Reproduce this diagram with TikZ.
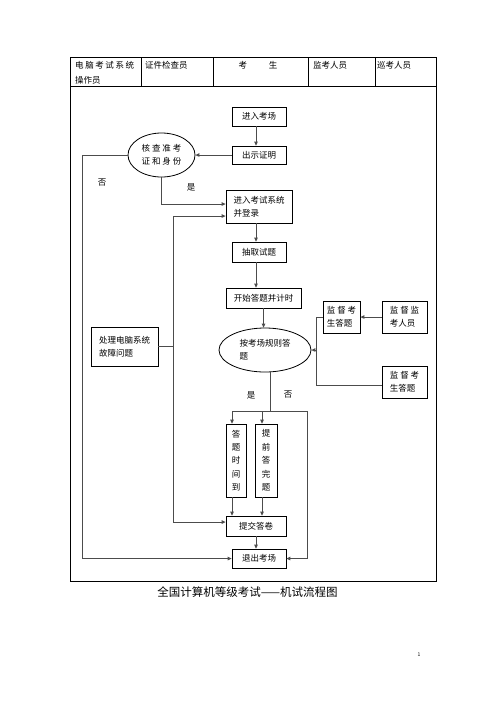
\documentclass[tikz,border=0pt]{standalone}
\usepackage{fontspec}
\setmainfont{Noto Sans CJK SC}
\usetikzlibrary{shapes.geometric}
\usetikzlibrary{arrows.meta}

\begin{document}
\begin{tikzpicture}[x=1pt, y=-1pt,
    every node/.style={inner sep=0pt, font=\fontsize{8.5pt}{13.4pt}\selectfont},
    box/.style={draw, line width=0.8pt},
    oval/.style={ellipse, draw, line width=0.8pt, align=center},
    conn/.style={draw=gray!60!black, line width=0.9pt},
    arr/.style={conn, -{Triangle[length=4pt, width=3.6pt]}}]

    \useasboundingbox (0,0) rectangle (496,702);

    % table frame and header row
    \draw[line width=0.8pt] (70,57) rectangle (436,581);
    \draw[line width=0.8pt] (70,86) -- (436,86);
    \foreach \x in {141,213,308,375}
        \draw[line width=0.8pt] (\x,57) -- (\x,86);

    \node[anchor=west] (h1) at (75,65) {\makebox[59pt]{电\hfill 脑\hfill 考\hfill 试\hfill 系\hfill 统}};
    \node[anchor=west] (h1b) at (75,80) {操作员};
    \node[anchor=west] (h2) at (145,65) {证件检查员};
    \node (h3) at (258,65) {考\hspace{22pt}生};
    \node[anchor=west] (h4) at (313,65) {监考人员};
    \node[anchor=west] (h5) at (377,65) {巡考人员};

    % steps
    \node[box, minimum width=54, minimum height=19] (1) at (259,116.5) {进入考场};

    \node[box, minimum width=54, minimum height=18] (2) at (259,155) {出示证明};

    \node[oval, minimum width=67, minimum height=44] (3) at (161.5,155) {核 查 准 考\\证 和 身 份};

    \node[box, minimum width=66, minimum height=33, align=left] (4) at (259,206.5) {进入考试系统\\并登录};

    \node[box, minimum width=54, minimum height=20] (5) at (259,252) {抽取试题};

    \node[box, minimum width=75, minimum height=20] (6) at (263.5,298) {开始答题并计时};

    \node[box, minimum width=37, minimum height=32, align=left] (7) at (341.5,317) {监 督 考\\生答题};
    \node[box, minimum width=45, minimum height=32, align=left] (8) at (404.5,317) {监 督 监\\考人员};

    \node[oval, minimum width=92, minimum height=44, align=left] (9) at (265,350) {按考场规则答\\题};

    \node[box, minimum width=67, minimum height=39, align=left] (10) at (124.5,346.5) {处理电脑系统\\故障问题};

    \node[box, minimum width=45, minimum height=32, align=left] (11) at (404.5,382) {监 督 考\\生答题};

    \node[box, minimum width=20, minimum height=73, align=center] (12) at (236,460.5) {答\\题\\时\\间\\到};
    \node[box, minimum width=22, minimum height=73, align=center] (13) at (266,460.5) {提\\前\\答\\完\\题};

    \node[box, minimum width=60, minimum height=20] (14) at (256,526) {提交答卷};

    \node[box, minimum width=54, minimum height=19] (15) at (259,558.5) {退出考场};

    % branch labels
    \node (l1) at (102,183) {否};
    \node (l2) at (191,187) {是};
    \node (l3) at (251,395) {是};
    \node (l4) at (288,395) {否};

    % bend points
    \coordinate (c1) at (82,155);
    \coordinate (c2) at (173,216);
    \coordinate (c3) at (173,522);
    \coordinate (c4) at (316,317);
    \coordinate (c5) at (316,385);
    \coordinate (c6) at (270,411);
    \coordinate (c7) at (307,411);

    \draw[arr] (1.south -| 14) -- (2.north -| 14);
    \draw[arr] (2.west) -- (3.east);
    \draw[arr] (3.west) -- (c1) |- (15.west);
    \draw[arr] (3.south) |- ([yshift=2.5pt]4.west);

    \draw[conn] (10.east) -- (10.east -| c2);
    \draw[conn] (c2) -- (c3);
    \draw[arr] (c2) -- (c2 -| 4.west);
    \draw[arr] (c3) -- (c3 -| 14.west);

    \draw[arr] (4.south -| 14) -- (5.north -| 14);
    \draw[arr] (5.south -| 14) -- (6.north -| 14);
    \draw[arr] (6.south) -- (6.south |- 9.north);

    \draw[arr] (8.west) -- (7.east);
    \draw[conn] (7.west) -- (c4) -- (c5) -- (c5 -| 11.west);
    \draw[arr] (c4 |- 9.east) -- (9.east);

    \draw[conn] (9.south -| c6) -- (c6);
    \draw[conn] ([xshift=-4pt]12.north |- c6) -- (c7);
    \draw[arr] ([xshift=-4pt]12.north |- c6) -- ([xshift=-4pt]12.north);
    \draw[arr] ([xshift=-4pt]13.north |- c6) -- ([xshift=-4pt]13.north);
    \draw[arr] (c7) |- (15.east);

    \draw[arr] ([xshift=-4pt]12.south) -- ([xshift=-4pt]12.south |- 14.north);
    \draw[arr] ([xshift=-4pt]13.south) -- ([xshift=-4pt]13.south |- 14.north);
    \draw[arr] (14.south) -- (14.south |- 15.north);

    % caption and page number
    \node[font=\fontsize{11.5pt}{14pt}\selectfont] (t) at (247.5,592.5) {全国计算机等级考试——机试流程图};
    \node[font=\fontsize{5pt}{6pt}\selectfont] (p) at (419,655) {1};

\end{tikzpicture}
\end{document}
